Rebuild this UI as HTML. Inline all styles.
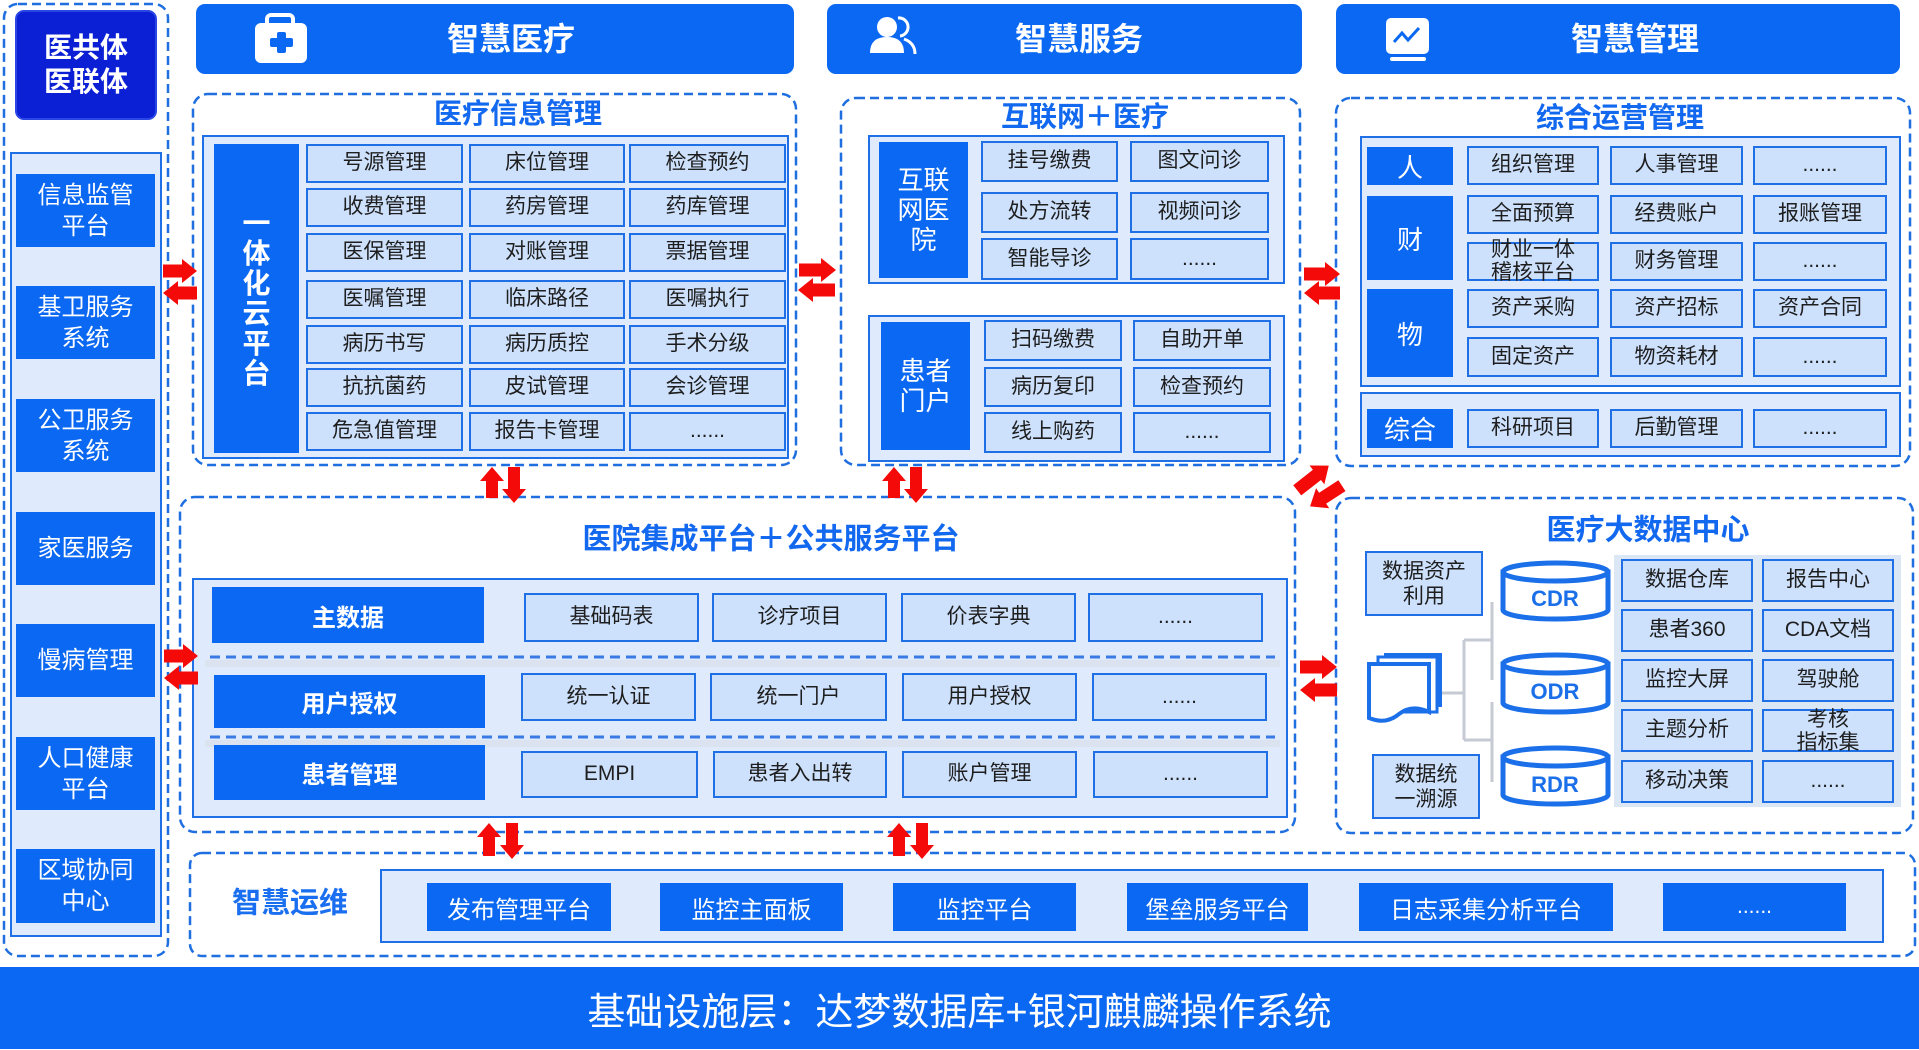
<!DOCTYPE html>
<html><head><meta charset="utf-8"><style>
html,body{margin:0;padding:0;width:1919px;height:1050px;overflow:hidden;background:#fff;}
body{position:relative;font-family:"Liberation Sans","Noto Sans CJK SC",sans-serif;}
div{position:absolute;box-sizing:border-box;}
.c{background:#cde1fd;border:2.5px solid #1f6fe6;display:flex;align-items:center;justify-content:center;font-size:21px;color:#1e1e1e;text-align:center;line-height:1.08;white-space:nowrap;}
.b{background:#0b68f2;color:#fff;display:flex;align-items:center;justify-content:center;text-align:center;white-space:nowrap;}
.p{background:#dfebfc;border:2.5px solid #1f6fe6;}
.t{color:#1268ee;font-weight:bold;font-size:28px;white-space:nowrap;transform:translate(-50%,-50%);line-height:1;}
.h{background:#0b68f2;border-radius:9px;}
.ht{color:#fff;font-weight:bold;font-size:32px;white-space:nowrap;transform:translate(-50%,-50%);line-height:1;}
.l{font-size:24px;line-height:31px;}
</style></head><body>

<!-- headers -->
<div class="h" style="left:196px;top:4px;width:598px;height:70px;"></div>
<div class="h" style="left:827px;top:4px;width:475px;height:70px;"></div>
<div class="h" style="left:1336px;top:4px;width:564px;height:70px;"></div>
<div class="ht" style="left:511px;top:39px;">智慧医疗</div>
<div class="ht" style="left:1079px;top:39px;">智慧服务</div>
<div class="ht" style="left:1635px;top:39px;">智慧管理</div>

<!-- left column -->
<div style="left:15px;top:10px;width:142px;height:110px;background:#0b1fd4;border:2px solid #2a47e6;border-radius:9px;color:#fff;font-weight:bold;font-size:28px;line-height:34px;display:flex;align-items:center;justify-content:center;text-align:center;">医共体<br>医联体</div>
<div class="p" style="left:10px;top:152px;width:152px;height:785px;"></div>
<div class="b l" style="left:16px;top:174px;width:139px;height:73px;">信息监管<br>平台</div>
<div class="b l" style="left:16px;top:286px;width:139px;height:73px;">基卫服务<br>系统</div>
<div class="b l" style="left:16px;top:399px;width:139px;height:73px;">公卫服务<br>系统</div>
<div class="b l" style="left:16px;top:512px;width:139px;height:73px;">家医服务</div>
<div class="b l" style="left:16px;top:624px;width:139px;height:73px;">慢病管理</div>
<div class="b l" style="left:16px;top:737px;width:139px;height:73px;">人口健康<br>平台</div>
<div class="b l" style="left:16px;top:849px;width:139px;height:74px;">区域协同<br>中心</div>

<!-- 医疗信息管理 -->
<div class="t" style="left:518px;top:114px;">医疗信息管理</div>
<div class="p" style="left:202px;top:135px;width:587px;height:324px;"></div>
<div class="b" style="left:214px;top:144px;width:85px;height:309px;font-size:28px;font-weight:bold;line-height:30px;">一<br>体<br>化<br>云<br>平<br>台</div>
<div class="c" style="left:306px;top:144px;width:157px;height:39px;">号源管理</div>
<div class="c" style="left:469px;top:144px;width:156px;height:39px;">床位管理</div>
<div class="c" style="left:629px;top:144px;width:157px;height:39px;">检查预约</div>
<div class="c" style="left:306px;top:188px;width:157px;height:39px;">收费管理</div>
<div class="c" style="left:469px;top:188px;width:156px;height:39px;">药房管理</div>
<div class="c" style="left:629px;top:188px;width:157px;height:39px;">药库管理</div>
<div class="c" style="left:306px;top:233px;width:157px;height:39px;">医保管理</div>
<div class="c" style="left:469px;top:233px;width:156px;height:39px;">对账管理</div>
<div class="c" style="left:629px;top:233px;width:157px;height:39px;">票据管理</div>
<div class="c" style="left:306px;top:280px;width:157px;height:39px;">医嘱管理</div>
<div class="c" style="left:469px;top:280px;width:156px;height:39px;">临床路径</div>
<div class="c" style="left:629px;top:280px;width:157px;height:39px;">医嘱执行</div>
<div class="c" style="left:306px;top:325px;width:157px;height:39px;">病历书写</div>
<div class="c" style="left:469px;top:325px;width:156px;height:39px;">病历质控</div>
<div class="c" style="left:629px;top:325px;width:157px;height:39px;">手术分级</div>
<div class="c" style="left:306px;top:368px;width:157px;height:39px;">抗抗菌药</div>
<div class="c" style="left:469px;top:368px;width:156px;height:39px;">皮试管理</div>
<div class="c" style="left:629px;top:368px;width:157px;height:39px;">会诊管理</div>
<div class="c" style="left:306px;top:412px;width:157px;height:39px;">危急值管理</div>
<div class="c" style="left:469px;top:412px;width:156px;height:39px;">报告卡管理</div>
<div class="c" style="left:629px;top:412px;width:157px;height:39px;">......</div>

<!-- 互联网+医疗 -->
<div class="t" style="left:1085px;top:117px;">互联网＋医疗</div>
<div class="p" style="left:868px;top:135px;width:417px;height:149px;"></div>
<div class="p" style="left:868px;top:315px;width:417px;height:147px;"></div>
<div class="b" style="left:879px;top:142px;width:89px;height:136px;font-size:26px;line-height:30px;">互联<br>网医<br>院</div>
<div class="b" style="left:881px;top:322px;width:89px;height:128px;font-size:26px;line-height:30px;">患者<br>门户</div>
<div class="c" style="left:981px;top:141px;width:137px;height:41px;">挂号缴费</div>
<div class="c" style="left:1130px;top:141px;width:139px;height:41px;">图文问诊</div>
<div class="c" style="left:981px;top:192px;width:137px;height:41px;">处方流转</div>
<div class="c" style="left:1130px;top:192px;width:139px;height:41px;">视频问诊</div>
<div class="c" style="left:981px;top:238px;width:137px;height:42px;">智能导诊</div>
<div class="c" style="left:1130px;top:238px;width:139px;height:42px;">......</div>
<div class="c" style="left:984px;top:320px;width:138px;height:41px;">扫码缴费</div>
<div class="c" style="left:1133px;top:320px;width:138px;height:41px;">自助开单</div>
<div class="c" style="left:984px;top:367px;width:138px;height:40px;">病历复印</div>
<div class="c" style="left:1133px;top:367px;width:138px;height:40px;">检查预约</div>
<div class="c" style="left:984px;top:412px;width:138px;height:41px;">线上购药</div>
<div class="c" style="left:1133px;top:412px;width:138px;height:41px;">......</div>

<!-- 综合运营管理 -->
<div class="t" style="left:1620px;top:118px;">综合运营管理</div>
<div class="p" style="left:1360px;top:136px;width:541px;height:251px;"></div>
<div class="p" style="left:1360px;top:392px;width:541px;height:65px;"></div>
<div class="b" style="left:1367px;top:147px;width:86px;height:38px;font-size:26px;">人</div>
<div class="b" style="left:1367px;top:196px;width:86px;height:84px;font-size:26px;">财</div>
<div class="b" style="left:1367px;top:289px;width:86px;height:88px;font-size:26px;">物</div>
<div class="b" style="left:1367px;top:409px;width:86px;height:39px;font-size:26px;">综合</div>
<div class="c" style="left:1467px;top:146px;width:132px;height:39px;">组织管理</div>
<div class="c" style="left:1610px;top:146px;width:133px;height:39px;">人事管理</div>
<div class="c" style="left:1753px;top:146px;width:134px;height:39px;">......</div>
<div class="c" style="left:1467px;top:195px;width:132px;height:39px;">全面预算</div>
<div class="c" style="left:1610px;top:195px;width:133px;height:39px;">经费账户</div>
<div class="c" style="left:1753px;top:195px;width:134px;height:39px;">报账管理</div>
<div class="c" style="left:1467px;top:242px;width:132px;height:39px;">财业一体<br>稽核平台</div>
<div class="c" style="left:1610px;top:242px;width:133px;height:39px;">财务管理</div>
<div class="c" style="left:1753px;top:242px;width:134px;height:39px;">......</div>
<div class="c" style="left:1467px;top:289px;width:132px;height:39px;">资产采购</div>
<div class="c" style="left:1610px;top:289px;width:133px;height:39px;">资产招标</div>
<div class="c" style="left:1753px;top:289px;width:134px;height:39px;">资产合同</div>
<div class="c" style="left:1467px;top:337px;width:132px;height:40px;">固定资产</div>
<div class="c" style="left:1610px;top:337px;width:133px;height:40px;">物资耗材</div>
<div class="c" style="left:1753px;top:337px;width:134px;height:40px;">......</div>
<div class="c" style="left:1467px;top:409px;width:132px;height:39px;">科研项目</div>
<div class="c" style="left:1610px;top:409px;width:133px;height:39px;">后勤管理</div>
<div class="c" style="left:1753px;top:409px;width:134px;height:39px;">......</div>

<!-- 医院集成平台 -->
<div class="t" style="left:771px;top:540px;font-size:29px;">医院集成平台＋公共服务平台</div>
<div class="p" style="left:192px;top:578px;width:1096px;height:240px;"></div>
<div style="left:205px;top:660px;width:1075px;height:7px;background:#d9dee7;opacity:.6;"></div>
<div style="left:205px;top:740px;width:1075px;height:7px;background:#d9dee7;opacity:.6;"></div>
<div class="b" style="left:212px;top:587px;width:272px;height:56px;font-size:24px;font-weight:bold;">主数据</div>
<div class="b" style="left:214px;top:675px;width:271px;height:53px;font-size:24px;font-weight:bold;">用户授权</div>
<div class="b" style="left:214px;top:745px;width:271px;height:55px;font-size:24px;font-weight:bold;">患者管理</div>
<div class="c" style="left:524px;top:593px;width:175px;height:49px;">基础码表</div>
<div class="c" style="left:712px;top:593px;width:175px;height:49px;">诊疗项目</div>
<div class="c" style="left:901px;top:593px;width:175px;height:49px;">价表字典</div>
<div class="c" style="left:1088px;top:593px;width:175px;height:49px;">......</div>
<div class="c" style="left:521px;top:673px;width:175px;height:48px;">统一认证</div>
<div class="c" style="left:710px;top:673px;width:177px;height:48px;">统一门户</div>
<div class="c" style="left:902px;top:673px;width:175px;height:48px;">用户授权</div>
<div class="c" style="left:1092px;top:673px;width:175px;height:48px;">......</div>
<div class="c" style="left:521px;top:751px;width:177px;height:47px;">EMPI</div>
<div class="c" style="left:713px;top:751px;width:174px;height:47px;">患者入出转</div>
<div class="c" style="left:902px;top:751px;width:175px;height:47px;">账户管理</div>
<div class="c" style="left:1093px;top:751px;width:175px;height:47px;">......</div>

<!-- 医疗大数据中心 -->
<div class="t" style="left:1648px;top:531px;font-size:29px;">医疗大数据中心</div>
<div class="c" style="left:1365px;top:551px;width:118px;height:65px;line-height:25px;">数据资产<br>利用</div>
<div class="c" style="left:1372px;top:754px;width:108px;height:65px;line-height:25px;">数据统<br>一溯源</div>
<div style="left:1614px;top:555px;width:287px;height:252px;background:#dce7f6;"></div>
<div class="c" style="left:1621px;top:559px;width:132px;height:43px;">数据仓库</div>
<div class="c" style="left:1762px;top:559px;width:132px;height:43px;">报告中心</div>
<div class="c" style="left:1621px;top:609px;width:132px;height:43px;">患者360</div>
<div class="c" style="left:1762px;top:609px;width:132px;height:43px;">CDA文档</div>
<div class="c" style="left:1621px;top:659px;width:132px;height:43px;">监控大屏</div>
<div class="c" style="left:1762px;top:659px;width:132px;height:43px;">驾驶舱</div>
<div class="c" style="left:1621px;top:709px;width:132px;height:43px;">主题分析</div>
<div class="c" style="left:1762px;top:709px;width:132px;height:43px;line-height:23px;">考核<br>指标集</div>
<div class="c" style="left:1621px;top:760px;width:132px;height:43px;">移动决策</div>
<div class="c" style="left:1762px;top:760px;width:132px;height:43px;">......</div>

<!-- 智慧运维 -->
<div class="t" style="left:290px;top:904px;font-size:29px;color:#1a6ff0;">智慧运维</div>
<div class="p" style="left:380px;top:869px;width:1504px;height:74px;"></div>
<div class="b" style="left:427px;top:883px;width:184px;height:48px;font-size:24px;">发布管理平台</div>
<div class="b" style="left:660px;top:883px;width:183px;height:48px;font-size:24px;">监控主面板</div>
<div class="b" style="left:893px;top:883px;width:183px;height:48px;font-size:24px;">监控平台</div>
<div class="b" style="left:1127px;top:883px;width:181px;height:48px;font-size:24px;">堡垒服务平台</div>
<div class="b" style="left:1359px;top:883px;width:254px;height:48px;font-size:24px;">日志采集分析平台</div>
<div class="b" style="left:1663px;top:883px;width:183px;height:48px;font-size:21px;">......</div>

<!-- bottom bar -->
<div class="b" style="left:0;top:967px;width:1919px;height:82px;font-size:38px;">基础设施层：达梦数据库+银河麒麟操作系统</div>

<svg width="1919" height="1050" style="position:absolute;left:0;top:0;" xmlns="http://www.w3.org/2000/svg">
<g fill="none" stroke="#1f6fe0" stroke-width="2.5" stroke-dasharray="9 5">
<rect x="4" y="4" width="164" height="952" rx="14"/>
<rect x="193" y="94" width="603" height="371" rx="15"/>
<rect x="841" y="98" width="459" height="367" rx="15"/>
<rect x="1336" y="98" width="574" height="368" rx="15"/>
<rect x="180" y="497" width="1115" height="335" rx="15"/>
<rect x="1336" y="498" width="577" height="335" rx="15"/>
<rect x="190" y="853" width="1725" height="103" rx="12"/>
</g>
<g stroke="#3a7ae6" stroke-width="3" stroke-dasharray="10 6">
<line x1="210" y1="657" x2="1275" y2="657"/>
<line x1="210" y1="737" x2="1275" y2="737"/>
</g>
<!-- icons -->
<rect x="267" y="15" width="26" height="14" rx="4" fill="none" stroke="#fff" stroke-width="4"/>
<rect x="255" y="23" width="52" height="40" rx="6" fill="#fff"/>
<rect x="277" y="32" width="9" height="21" rx="2" fill="#0b68f2"/>
<rect x="270" y="38" width="23" height="9" rx="2" fill="#0b68f2"/>
<circle cx="887" cy="27" r="10" fill="#fff"/>
<path d="M870,53 Q870,37 887,37 Q904,37 904,53 Z" fill="#fff"/>
<path d="M898,18 A9,9 0 0 1 900,36" fill="none" stroke="#fff" stroke-width="3"/>
<path d="M904,39 Q915,43 915,54" fill="none" stroke="#fff" stroke-width="3"/>
<rect x="1386" y="18" width="43" height="36" rx="5" fill="#fff"/>
<rect x="1390" y="57" width="36" height="4" rx="2" fill="#fff"/>
<polyline points="1394,42 1402,33 1408,40 1419,28" fill="none" stroke="#0b68f2" stroke-width="3"/>
<!-- connectors -->
<g stroke="#c5cad3" stroke-width="3" fill="none">
<path d="M1442,693 H1464 M1464,640 V740 M1464,640 H1492 M1464,740 H1492 M1492,602 V680 M1492,702 V782"/>
</g>
<!-- doc icon -->
<rect x="1384" y="653" width="58" height="54" fill="#1b6fe8"/>
<rect x="1378" y="657" width="59" height="55" fill="#fff" stroke="#1b6fe8" stroke-width="3"/>
<path d="M1369,664 L1429,664 L1429,712 Q1412,704 1399,714 Q1386,725 1369,718 Z" fill="#fff" stroke="#1b6fe8" stroke-width="4"/>
<!-- cylinders -->
<g fill="#fff" stroke="#1b6fe8" stroke-width="5">
<path d="M1503,572 L1503,610 A52.5,9 0 0 0 1608,610 L1608,572 Z"/>
<ellipse cx="1555.5" cy="572" rx="52.5" ry="9"/>
<path d="M1503,664 L1503,703 A52.5,9 0 0 0 1608,703 L1608,664 Z"/>
<ellipse cx="1555.5" cy="664" rx="52.5" ry="9"/>
<path d="M1503,757 L1503,795 A52.5,9 0 0 0 1608,795 L1608,757 Z"/>
<ellipse cx="1555.5" cy="757" rx="52.5" ry="9"/>
</g>
<g fill="#1b6fe8" font-family="Liberation Sans, sans-serif" font-weight="bold" font-size="22" text-anchor="middle">
<text x="1555" y="606">CDR</text>
<text x="1555" y="699">ODR</text>
<text x="1555" y="792">RDR</text>
</g>
<!-- arrows -->
<g fill="#f50a0a">
<polygon points="163,264.5 182,264.5 182,259 197,271 182,283 182,277.5 163,277.5"/>
<polygon points="197,286.5 178,286.5 178,281 163,293 178,305 178,299.5 197,299.5"/>
<polygon points="799,263.5 821,263.5 821,258 836,270 821,282 821,276.5 799,276.5"/>
<polygon points="835,283.5 813,283.5 813,278 798,290 813,302 813,296.5 835,296.5"/>
<polygon points="1304,267.5 1325,267.5 1325,262 1340,274 1325,286 1325,280.5 1304,280.5"/>
<polygon points="1340,286.5 1319,286.5 1319,281 1304,293 1319,305 1319,299.5 1340,299.5"/>
<polygon points="164,649.5 183,649.5 183,644 198,656 183,668 183,662.5 164,662.5"/>
<polygon points="198,671.5 179,671.5 179,666 164,678 179,690 179,684.5 198,684.5"/>
<polygon points="1300,660.5 1322,660.5 1322,655 1337,667 1322,679 1322,673.5 1300,673.5"/>
<polygon points="1337,683.5 1315,683.5 1315,678 1300,690 1315,702 1315,696.5 1337,696.5"/>
<polygon points="486,498 486,481 480,481 492,467 504,481 498,481 498,498"/>
<polygon points="508,467 508,489 502,489 514,503 526,489 520,489 520,467"/>
<polygon points="888,498 888,481 882,481 894,467 906,481 900,481 900,498"/>
<polygon points="910,467 910,489 904,489 916,503 928,489 922,489 922,467"/>
<polygon points="483,856 483,837 477,837 489,823 501,837 495,837 495,856"/>
<polygon points="506,823 506,845 500,845 512,859 524,845 518,845 518,823"/>
<polygon points="893,856 893,837 887,837 899,823 911,837 905,837 905,856"/>
<polygon points="916,823 916,845 910,845 922,859 934,845 928,845 928,823"/>
<polygon points="-20,-6.5 5,-6.5 5,-12 20,0 5,12 5,6.5 -20,6.5" transform="translate(1313,478) rotate(-38)"/>
<polygon points="-19,-6.5 4,-6.5 4,-12 19,0 4,12 4,6.5 -19,6.5" transform="translate(1326,496) rotate(147)"/>
</g>
</svg>
</body></html>
